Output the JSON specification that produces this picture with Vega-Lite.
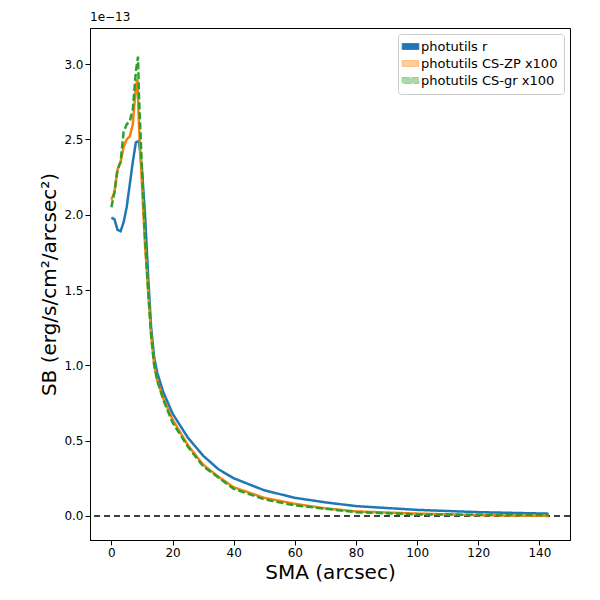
{
  "$schema": "https://vega.github.io/schema/vega-lite/v6.json",
  "width": 480,
  "height": 512,
  "autosize": "none",
  "padding": {"left": 90, "top": 28, "right": 30, "bottom": 60},
  "datasets": {
    "sb": [
      {"sma": 0, "v": 1.98, "s": "photutils r"}, {"sma": 1, "v": 1.97, "s": "photutils r"}, {"sma": 2, "v": 1.9, "s": "photutils r"}, {"sma": 3, "v": 1.89, "s": "photutils r"}, {"sma": 4, "v": 1.95, "s": "photutils r"}, {"sma": 5, "v": 2.05, "s": "photutils r"}, {"sma": 6, "v": 2.2, "s": "photutils r"}, {"sma": 7, "v": 2.35, "s": "photutils r"}, {"sma": 8, "v": 2.48, "s": "photutils r"}, {"sma": 9, "v": 2.49, "s": "photutils r"}, {"sma": 10, "v": 2.3, "s": "photutils r"}, {"sma": 11, "v": 2.0, "s": "photutils r"}, {"sma": 12, "v": 1.6, "s": "photutils r"}, {"sma": 13, "v": 1.25, "s": "photutils r"}, {"sma": 14, "v": 1.05, "s": "photutils r"}, {"sma": 15, "v": 0.95, "s": "photutils r"}, {"sma": 17, "v": 0.82, "s": "photutils r"}, {"sma": 20, "v": 0.68, "s": "photutils r"}, {"sma": 25, "v": 0.52, "s": "photutils r"}, {"sma": 30, "v": 0.4, "s": "photutils r"}, {"sma": 35, "v": 0.31, "s": "photutils r"}, {"sma": 40, "v": 0.25, "s": "photutils r"}, {"sma": 50, "v": 0.17, "s": "photutils r"}, {"sma": 60, "v": 0.12, "s": "photutils r"}, {"sma": 70, "v": 0.09, "s": "photutils r"}, {"sma": 80, "v": 0.065, "s": "photutils r"}, {"sma": 100, "v": 0.04, "s": "photutils r"}, {"sma": 120, "v": 0.025, "s": "photutils r"}, {"sma": 143, "v": 0.015, "s": "photutils r"},
      {"sma": 0, "v": 2.1, "s": "photutils CS-ZP x100"}, {"sma": 1, "v": 2.15, "s": "photutils CS-ZP x100"}, {"sma": 2, "v": 2.3, "s": "photutils CS-ZP x100"}, {"sma": 3, "v": 2.35, "s": "photutils CS-ZP x100"}, {"sma": 4, "v": 2.45, "s": "photutils CS-ZP x100"}, {"sma": 5, "v": 2.5, "s": "photutils CS-ZP x100"}, {"sma": 6, "v": 2.52, "s": "photutils CS-ZP x100"}, {"sma": 7, "v": 2.6, "s": "photutils CS-ZP x100"}, {"sma": 8, "v": 2.85, "s": "photutils CS-ZP x100"}, {"sma": 8.5, "v": 2.9, "s": "photutils CS-ZP x100"}, {"sma": 9, "v": 2.6, "s": "photutils CS-ZP x100"}, {"sma": 10, "v": 2.2, "s": "photutils CS-ZP x100"}, {"sma": 11, "v": 1.8, "s": "photutils CS-ZP x100"}, {"sma": 12, "v": 1.5, "s": "photutils CS-ZP x100"}, {"sma": 13, "v": 1.2, "s": "photutils CS-ZP x100"}, {"sma": 14, "v": 1.0, "s": "photutils CS-ZP x100"}, {"sma": 15, "v": 0.9, "s": "photutils CS-ZP x100"}, {"sma": 17, "v": 0.78, "s": "photutils CS-ZP x100"}, {"sma": 20, "v": 0.64, "s": "photutils CS-ZP x100"}, {"sma": 25, "v": 0.47, "s": "photutils CS-ZP x100"}, {"sma": 30, "v": 0.34, "s": "photutils CS-ZP x100"}, {"sma": 35, "v": 0.26, "s": "photutils CS-ZP x100"}, {"sma": 40, "v": 0.19, "s": "photutils CS-ZP x100"}, {"sma": 50, "v": 0.12, "s": "photutils CS-ZP x100"}, {"sma": 60, "v": 0.08, "s": "photutils CS-ZP x100"}, {"sma": 70, "v": 0.05, "s": "photutils CS-ZP x100"}, {"sma": 80, "v": 0.03, "s": "photutils CS-ZP x100"}, {"sma": 100, "v": 0.015, "s": "photutils CS-ZP x100"}, {"sma": 120, "v": 0.005, "s": "photutils CS-ZP x100"}, {"sma": 143, "v": 0.0, "s": "photutils CS-ZP x100"},
      {"sma": 0, "v": 2.05, "s": "photutils CS-gr x100"}, {"sma": 1, "v": 2.15, "s": "photutils CS-gr x100"}, {"sma": 2, "v": 2.3, "s": "photutils CS-gr x100"}, {"sma": 3, "v": 2.35, "s": "photutils CS-gr x100"}, {"sma": 4, "v": 2.55, "s": "photutils CS-gr x100"}, {"sma": 5, "v": 2.6, "s": "photutils CS-gr x100"}, {"sma": 6, "v": 2.62, "s": "photutils CS-gr x100"}, {"sma": 7, "v": 2.7, "s": "photutils CS-gr x100"}, {"sma": 8, "v": 2.95, "s": "photutils CS-gr x100"}, {"sma": 8.7, "v": 3.05, "s": "photutils CS-gr x100"}, {"sma": 9, "v": 2.8, "s": "photutils CS-gr x100"}, {"sma": 10, "v": 2.3, "s": "photutils CS-gr x100"}, {"sma": 11, "v": 1.85, "s": "photutils CS-gr x100"}, {"sma": 12, "v": 1.5, "s": "photutils CS-gr x100"}, {"sma": 13, "v": 1.2, "s": "photutils CS-gr x100"}, {"sma": 14, "v": 1.0, "s": "photutils CS-gr x100"}, {"sma": 15, "v": 0.9, "s": "photutils CS-gr x100"}, {"sma": 17, "v": 0.77, "s": "photutils CS-gr x100"}, {"sma": 20, "v": 0.62, "s": "photutils CS-gr x100"}, {"sma": 25, "v": 0.46, "s": "photutils CS-gr x100"}, {"sma": 30, "v": 0.33, "s": "photutils CS-gr x100"}, {"sma": 40, "v": 0.18, "s": "photutils CS-gr x100"}, {"sma": 50, "v": 0.11, "s": "photutils CS-gr x100"}, {"sma": 60, "v": 0.07, "s": "photutils CS-gr x100"}, {"sma": 80, "v": 0.025, "s": "photutils CS-gr x100"}, {"sma": 100, "v": 0.01, "s": "photutils CS-gr x100"}, {"sma": 143, "v": 0.005, "s": "photutils CS-gr x100"}
    ],
    "zero": [{"v": 0}],
    "exp": [{"label": "1e\u221213"}]
  },
  "layer": [
    {
      "data": {"name": "zero"},
      "mark": {"type": "rule", "color": "black", "strokeDash": [6, 4], "strokeWidth": 1.5},
      "encoding": {"y": {"field": "v", "type": "quantitative"}}
    },
    {
      "data": {"name": "sb"},
      "mark": {"type": "line", "strokeWidth": 2.5, "clip": true},
      "encoding": {
        "x": {"field": "sma", "type": "quantitative", "title": "SMA (arcsec)",
          "scale": {"domain": [-7, 150], "nice": false, "zero": false},
          "axis": {"values": [0, 20, 40, 60, 80, 100, 120, 140], "grid": false, "titleFontSize": 20, "titleFontWeight": "normal", "labelFontSize": 12}},
        "y": {"field": "v", "type": "quantitative", "title": "SB (erg/s/cm\u00b2/arcsec\u00b2)",
          "scale": {"domain": [-0.16, 3.24], "nice": false},
          "axis": {"values": [0, 0.5, 1, 1.5, 2, 2.5, 3], "format": ".1f", "grid": false, "titleFontSize": 20, "titleFontWeight": "normal", "labelFontSize": 12}},
        "color": {"field": "s", "type": "nominal", "title": null,
          "scale": {"domain": ["photutils r", "photutils CS-ZP x100", "photutils CS-gr x100"], "range": ["#1f77b4", "#ff7f0e", "#2ca02c"]},
          "legend": {"orient": "top-right", "offset": 6, "symbolType": "M-1.4,-0.5H1.4V0.5H-1.4Z", "symbolSize": 140, "symbolStrokeWidth": 1, "labelFontSize": 13, "rowPadding": 3, "fillColor": "white", "strokeColor": "#cccccc", "padding": 6, "cornerRadius": 3,
            "encode": {"symbols": {"update": {
              "fill": {"scale": "color", "field": "value"},
              "stroke": {"scale": "color", "field": "value"},
              "strokeDash": {"value": []},
              "fillOpacity": {"signal": "datum.value == 'photutils r' ? 1 : 0.4"},
              "strokeOpacity": {"signal": "datum.value == 'photutils r' ? 1 : 0.4"}}}}}},
        "strokeDash": {"field": "s", "type": "nominal",
          "scale": {"domain": ["photutils r", "photutils CS-ZP x100", "photutils CS-gr x100"], "range": [[1, 0], [1, 0], [7, 3]]},
          "legend": null}
      }
    },
    {
      "data": {"name": "exp"},
      "mark": {"type": "text", "align": "left", "baseline": "bottom", "dy": -4, "fontSize": 12},
      "encoding": {"text": {"field": "label"}, "x": {"value": 0}, "y": {"value": 0}}
    }
  ],
  "config": {"font": "DejaVu Sans", "view": {"stroke": "black"}, "axis": {"labelColor": "black", "titleColor": "black", "domainColor": "black", "tickColor": "black"}}
}
